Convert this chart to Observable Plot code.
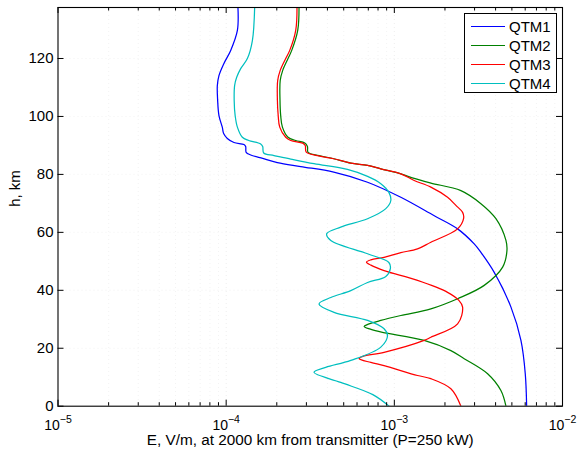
<!DOCTYPE html>
<html><head><meta charset="utf-8">
<script src="https://cdn.jsdelivr.net/npm/d3@7"></script>
<script src="https://cdn.jsdelivr.net/npm/@observablehq/plot@0.6"></script>
<style>
body{margin:0;background:#fff;}
#wrap{position:relative;width:579px;height:449px;font-family:"Liberation Sans",Arial,sans-serif;}
#legend{position:absolute;left:464px;top:13px;width:93px;height:80px;border:1.5px solid #000;background:#fff;box-sizing:border-box;}
.item{position:absolute;left:0;height:19px;display:flex;align-items:center;font-size:15px;color:#000;white-space:nowrap;}
.sw{width:34px;height:0;border-top:1.3px solid;margin-left:6px;margin-right:4px;}
</style></head><body><div id="wrap"></div>
<script>
const series = ["QTM1", "QTM2", "QTM3", "QTM4"];
const colors = ["#0000ff", "#008000", "#ff0000", "#00bfbf"];

const qtm1H = [137.6,129.7,122.8,118.3,114.1,110.7,105.5,100.3,96.2,94.1,92.4,91.0,90.3,89.6,87.6,86.7,85.5,84.1,82.7,80.8,77.3,72.1,65.8,61.2,56.0,53.1,46.2,34.2,22.7,11.2,0];
const qtm1E = [1.175e-4,1.166e-4,1.064e-4,9.70e-5,9.06e-5,8.86e-5,8.90e-5,9.06e-5,9.49e-5,9.66e-5,1.016e-4,1.113e-4,1.276e-4,1.306e-4,1.315e-4,1.399e-4,1.649e-4,2.017e-4,2.777e-4,4.363e-4,6.93e-4,1.093e-3,1.718e-3,2.378e-3,2.985e-3,3.272e-3,3.926e-3,4.938e-3,5.66e-3,6.006e-3,6.12e-3];

const qtm2H = [137.6,129.7,122.8,120.0,115.9,112.4,105.5,100.3,96.3,92.8,91.7,90.8,89.6,87.6,86.5,85.4,83.9,83.1,81.9,80.2,78.6,77.0,74.4,69.9,64.7,57.2,53.7,48.0,41.7,37.1,33.6,31.3,29.6,28.3,27.5,26.6,25.5,22.7,19.2,16.4,11.2,5.4,0];
const qtm2E = [2.712e-4,2.664e-4,2.454e-4,2.333e-4,2.169e-4,2.096e-4,2.090e-4,2.110e-4,2.160e-4,2.333e-4,2.592e-4,2.933e-4,3.043e-4,3.069e-4,3.567e-4,4.363e-4,5.51e-4,6.93e-4,8.31e-4,1.093e-3,1.312e-3,1.649e-3,2.488e-3,3.272e-3,4.02e-3,4.61e-3,4.673e-3,4.406e-3,3.423e-3,2.378e-3,1.649e-3,1.093e-3,8.31e-4,7.0e-4,6.61e-4,7.2e-4,8.5e-4,1.504e-3,2.169e-3,2.603e-3,3.587e-3,4.303e-3,4.61e-3];

const qtm3H = [137.6,129.7,122.8,120.0,115.9,112.4,105.5,100.3,96.3,92.8,91.7,90.8,90.0,87.7,86.5,85.4,83.9,83.1,81.9,80.2,77.9,75.6,72.1,69.3,66.9,64.8,61.2,56.6,54.3,53.0,51.4,50.5,49.7,48.7,46.8,43.4,39.3,36.5,34.2,28.4,23.8,22.7,18.6,17.2,16.4,15.1,14.0,10.6,9.5,6.0,0];
const qtm3E = [2.638e-4,2.592e-4,2.388e-4,2.260e-4,2.096e-4,2.025e-4,2.017e-4,2.039e-4,2.082e-4,2.260e-4,2.42e-4,2.853e-4,2.952e-4,2.993e-4,3.49e-4,4.363e-4,5.51e-4,6.93e-4,8.31e-4,1.093e-3,1.312e-3,1.649e-3,2.073e-3,2.323e-3,2.547e-3,2.582e-3,2.378e-3,1.649e-3,1.374e-3,1.093e-3,8.69e-4,7.25e-4,6.83e-4,7.25e-4,8.69e-4,1.374e-3,2.073e-3,2.42e-3,2.547e-3,2.378e-3,1.649e-3,1.504e-3,8.69e-4,6.50e-4,6.17e-4,7.25e-4,8.69e-4,1.374e-3,1.649e-3,2.169e-3,2.488e-3];

const qtm4H = [137.6,126.2,120.0,116.5,113.5,110.7,105.5,100.3,96.3,92.8,91.7,90.5,89.6,87.4,86.5,85.3,83.7,81.7,79.3,76.8,73.8,71.0,68.2,64.7,61.8,59.5,57.2,52.6,49.6,47.5,44.8,42.7,39.9,37.5,35.3,32.4,29.6,26.8,24.4,20.4,15.8,13.4,11.7,8.2,4.0,0];
const qtm4E = [1.477e-4,1.432e-4,1.337e-4,1.22e-4,1.155e-4,1.123e-4,1.116e-4,1.131e-4,1.166e-4,1.248e-4,1.361e-4,1.604e-4,1.649e-4,1.672e-4,1.925e-4,2.42e-4,3.33e-4,5.26e-4,6.93e-4,8.31e-4,9.28e-4,9.53e-4,8.90e-4,6.93e-4,4.80e-4,3.96e-4,4.19e-4,6.93e-4,9.28e-4,9.47e-4,8.90e-4,6.93e-4,5.51e-4,4.19e-4,3.567e-4,4.38e-4,6.93e-4,8.66e-4,9.11e-4,8.31e-4,5.51e-4,3.91e-4,3.33e-4,4.80e-4,7.45e-4,9.31e-4];

const yTicks = [0, 20, 40, 60, 80, 100, 120];
const xMajor = [1e-5, 1e-4, 1e-3, 1e-2];
const xMinor = [2e-5,3e-5,4e-5,5e-5,6e-5,7e-5,8e-5,9e-5,2e-4,3e-4,4e-4,5e-4,6e-4,7e-4,8e-4,9e-4,2e-3,3e-3,4e-3,5e-3,6e-3,7e-3,8e-3,9e-3];
const xTitle = "E, V/m, at 2000 km from transmitter (P=250 kW)";
const yTitle = "h, km";

const W = 579, H = 449, mL = 57.5, mR = 17, mT = 7, mB = 43.3;
const pW = W - mL - mR, pH = H - mT - mB;

const rows = [];
[[qtm1E, qtm1H], [qtm2E, qtm2H], [qtm3E, qtm3H], [qtm4E, qtm4H]].forEach(([E, Hs], k) => {
  E.forEach((e, i) => rows.push({series: series[k], E: e, h: Hs[i]}));
});

const gridStyle = {stroke: "#666", strokeWidth: 0.8, strokeDasharray: "1,3"};
const font = {fontSize: 15, fill: "#000"};

const chart = Plot.plot({
  width: W, height: H,
  marginLeft: mL, marginRight: mR, marginTop: mT, marginBottom: mB,
  style: {fontFamily: "'Liberation Sans', Arial, sans-serif", background: "#fff", color: "#000"},
  x: {type: "log", domain: [1e-5, 1e-2], axis: null},
  y: {domain: [0, 137.6], axis: null},
  color: {domain: series, range: colors},
  marks: [
    Plot.gridX(xMinor, gridStyle),
    Plot.gridX(xMajor.slice(1, -1), {...gridStyle, stroke: "#222"}),
    Plot.gridY(yTicks.slice(1), gridStyle),
    Plot.line(rows, {x: "E", y: "h", z: "series", stroke: "series", strokeWidth: 1.25, curve: "catmull-rom", clip: true}),
    Plot.tickX(xMajor, {x: d => d, insetTop: pH - 6, stroke: "#000"}),
    Plot.tickX(xMajor, {x: d => d, insetBottom: pH - 6, stroke: "#000"}),
    Plot.tickX(xMinor, {x: d => d, insetTop: pH - 3.5, stroke: "#000"}),
    Plot.tickX(xMinor, {x: d => d, insetBottom: pH - 3.5, stroke: "#000"}),
    Plot.tickY(yTicks, {y: d => d, insetRight: pW - 6, stroke: "#000"}),
    Plot.tickY(yTicks, {y: d => d, insetLeft: pW - 6, stroke: "#000"}),
    Plot.frame({stroke: "#000", strokeWidth: 1.1}),
    Plot.text(yTicks, {y: d => d, frameAnchor: "left", dx: -4.5, textAnchor: "end", text: d => String(d), ...font}),
    Plot.text(xMajor, {x: d => d, frameAnchor: "bottom", dy: 23.5, lineAnchor: "bottom", text: d => "10^" + Math.round(Math.log10(d)), fontSize: 14, fill: "#000"}),
    Plot.text([xTitle], {frameAnchor: "bottom", dy: 39, lineAnchor: "bottom", text: d => d, fontSize: 15.3, fill: "#000"}),
    Plot.text([yTitle], {frameAnchor: "left", dx: -42.5, rotate: -90, text: d => d, ...font})
  ]
});

const wrap = document.getElementById("wrap");
wrap.appendChild(chart);

// superscript exponents on the x tick labels
d3.select(chart).selectAll("text").each(function() {
  const t = this.textContent;
  if (/^10\^/.test(t)) {
    const exp = t.slice(3).replace("-", "\u2212");
    const el = d3.select(this);
    el.text(null);
    el.append("tspan").text("10");
    el.append("tspan").attr("dy", "-0.6em").attr("font-size", "10.5px").text(exp);
  }
});

// legend
const legend = document.createElement("div");
legend.id = "legend";
series.forEach((s, i) => {
  const item = document.createElement("div");
  item.className = "item";
  item.style.top = (2.5 + i * 19) + "px";
  const sw = document.createElement("span");
  sw.className = "sw";
  sw.style.borderTopColor = colors[i];
  const tx = document.createElement("span");
  tx.textContent = s;
  item.appendChild(sw); item.appendChild(tx);
  legend.appendChild(item);
});
wrap.appendChild(legend);
</script></body></html>
